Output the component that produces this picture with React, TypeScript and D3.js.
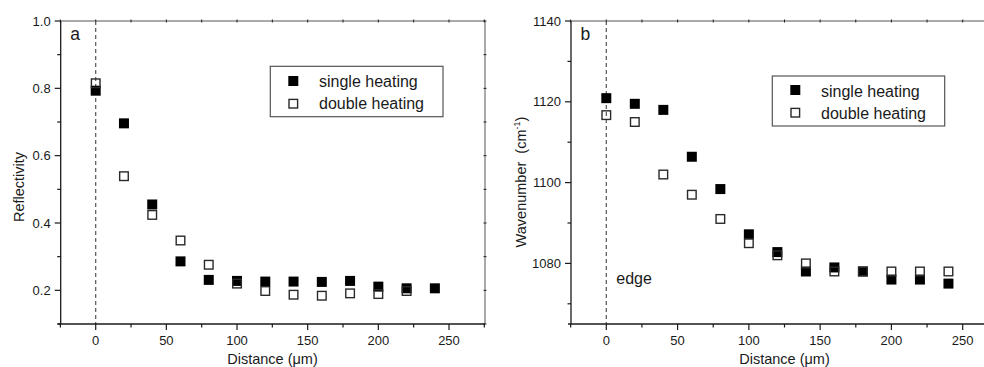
import React from "react";
import * as d3 from "d3";

const distances = [0, 20, 40, 60, 80, 100, 120, 140, 160, 180, 200, 220, 240];
const reflSingle = [0.793, 0.696, 0.455, 0.286, 0.231, 0.228, 0.226, 0.226, 0.225, 0.228, 0.211, 0.206, 0.206];
const reflDouble = [0.815, 0.539, 0.424, 0.348, 0.276, 0.22, 0.198, 0.187, 0.184, 0.191, 0.189, 0.198];
const waveSingle = [1120.9, 1119.5, 1118, 1106.4, 1098.4, 1087.2, 1082.8, 1078, 1079, 1078, 1076, 1076, 1075];
const waveDouble = [1116.7, 1115, 1102, 1097, 1091, 1085, 1082, 1080, 1078, 1078, 1078, 1078, 1078];

const xMajor = [0, 50, 100, 150, 200, 250];
const xMinor = [-25, 25, 75, 125, 175, 225, 275];
const reflMajor = [0.2, 0.4, 0.6, 0.8, 1.0];
const reflMinor = [0.1, 0.3, 0.5, 0.7, 0.9];
const waveMajor = [1080, 1100, 1120, 1140];
const waveMinor = [1070, 1090, 1110, 1130];
const legendLabels = ["single heating", "double heating"];

const FONT = "'Liberation Sans', Arial, Helvetica, sans-serif";
const INK = "#1a1a1a";

type PanelProps = {
  left: number; right: number; x0: number; x250: number;
  yDomain: [number, number];
  yMajor: number[]; yMinor: number[]; yFmt: (v: number) => string;
  single: number[]; double: number[];
  letter: string;
  legend: { x0: number; x1: number; y0: number; y1: number; mx: number; tx: number; r1: number; r2: number; b1: number; b2: number };
  yTitle: React.ReactNode; yTitleX: number; yTitleY: number;
  xTitleX: number;
  extra?: React.ReactNode;
  showRight: boolean;
};

const TOP = 21, BOTTOM = 324;

function Panel(p: PanelProps) {
  const x = d3.scaleLinear().domain([0, 250]).range([p.x0, p.x250]);
  const y = d3.scaleLinear().domain(p.yDomain).range([BOTTOM, TOP]);
  const L = p.left, R = p.right;
  return (
    <g fontFamily={FONT} fill={INK}>
      <line x1={L} x2={R} y1={TOP} y2={TOP} stroke="#555" strokeWidth={1} />
      {p.showRight && <line x1={R} x2={R} y1={TOP} y2={BOTTOM} stroke="#555" strokeWidth={1} />}
      {[...xMajor, ...xMinor].map((v) => (
        <line key={"tt" + v} x1={x(v)} x2={x(v)} y1={TOP - 1.5} y2={TOP + 1.5} stroke="#222" />
      ))}
      {p.showRight && [...p.yMajor, ...p.yMinor].map((v) => (
        <line key={"rt" + v} x1={R - 1.5} x2={R + 1.5} y1={y(v)} y2={y(v)} stroke="#222" />
      ))}
      <line x1={x(0)} x2={x(0)} y1={TOP} y2={BOTTOM} stroke="#555" strokeWidth={1.2} strokeDasharray="4,3" />
      <line x1={L} x2={L} y1={TOP} y2={BOTTOM} stroke={INK} strokeWidth={1.3} />
      <line x1={L - 3} x2={R} y1={BOTTOM} y2={BOTTOM} stroke={INK} strokeWidth={1.3} />
      {xMajor.map((v) => (
        <g key={"xm" + v}>
          <line x1={x(v)} x2={x(v)} y1={BOTTOM} y2={BOTTOM + 6} stroke={INK} strokeWidth={1.2} />
          <text x={x(v)} y={345} fontSize={13} textAnchor="middle">{v}</text>
        </g>
      ))}
      {xMinor.map((v) => (
        <line key={"xn" + v} x1={x(v)} x2={x(v)} y1={BOTTOM} y2={BOTTOM + 3.5} stroke={INK} strokeWidth={1.2} />
      ))}
      {p.yMajor.map((v) => (
        <g key={"ym" + v}>
          <line x1={L - 6} x2={L} y1={y(v)} y2={y(v)} stroke={INK} strokeWidth={1.2} />
          <text x={L - 10} y={y(v) + 4.5} fontSize={13} textAnchor="end">{p.yFmt(v)}</text>
        </g>
      ))}
      {p.yMinor.map((v) => (
        <line key={"yn" + v} x1={L - 3.5} x2={L} y1={y(v)} y2={y(v)} stroke={INK} strokeWidth={1.2} />
      ))}
      {p.single.map((v, i) => (
        <rect key={"s" + i} x={x(distances[i]) - 5} y={y(v) - 5} width={10} height={10} fill="#000" />
      ))}
      {p.double.map((v, i) => (
        <rect key={"d" + i} x={x(distances[i]) - 4.3} y={y(v) - 4.3} width={8.6} height={8.6} fill="none" stroke="#2a2a2a" strokeWidth={1.4} />
      ))}
      <rect x={p.legend.x0} y={p.legend.y0} width={p.legend.x1 - p.legend.x0} height={p.legend.y1 - p.legend.y0} fill="white" stroke="#555" strokeWidth={1.2} />
      <rect x={p.legend.mx - 5} y={p.legend.r1 - 5} width={10} height={10} fill="#000" />
      <rect x={p.legend.mx - 4.3} y={p.legend.r2 - 4.3} width={8.6} height={8.6} fill="none" stroke="#2a2a2a" strokeWidth={1.4} />
      <text x={p.legend.tx} y={p.legend.b1} fontSize={16}>{legendLabels[0]}</text>
      <text x={p.legend.tx} y={p.legend.b2} fontSize={16}>{legendLabels[1]}</text>
      <text x={L + 9.5} y={40} fontSize={17.5}>{p.letter}</text>
      {p.extra}
      <text x={p.xTitleX} y={364} fontSize={14.5} textAnchor="middle">Distance (μm)</text>
      <text transform={`translate(${p.yTitleX},${p.yTitleY}) rotate(-90)`} fontSize={14.5} textAnchor="middle">{p.yTitle}</text>
    </g>
  );
}

export default function App() {
  return (
    <svg width={984} height={367} style={{ position: "absolute", left: 0, top: 0, background: "white" }}>
      <rect width={984} height={367} fill="white" />
      <Panel
        left={60.7} right={485} x0={95.7} x250={449}
        yDomain={[0.1, 1.0]} yMajor={reflMajor} yMinor={reflMinor} yFmt={(v) => v.toFixed(1)}
        single={reflSingle} double={reflDouble} letter="a"
        legend={{ x0: 270.3, x1: 443, y0: 66.3, y1: 116.7, mx: 293.3, tx: 319, r1: 81, r2: 103.7, b1: 87.3, b2: 109.3 }}
        yTitle="Reflectivity" yTitleX={24} yTitleY={187}
        xTitleX={272.5}
        showRight={true}
      />
      <Panel
        left={571} right={998} x0={606.3} x250={962.7}
        yDomain={[1065, 1140]} yMajor={waveMajor} yMinor={waveMinor} yFmt={(v) => String(v)}
        single={waveSingle} double={waveDouble} letter="b"
        legend={{ x0: 772.3, x1: 944.7, y0: 76, y1: 126, mx: 795.3, tx: 821, r1: 90, r2: 112.7, b1: 96.5, b2: 118.7 }}
        yTitle={<><tspan>{"Wavenumber\u00A0\u00A0(cm"}</tspan><tspan fontSize={9} dy={-6}>-1</tspan><tspan dy={6}>)</tspan></>}
        yTitleX={526} yTitleY={182}
        xTitleX={784.5}
        showRight={false}
        extra={<text x={616.3} y={284} fontSize={16}>edge</text>}
      />
    </svg>
  );
}
